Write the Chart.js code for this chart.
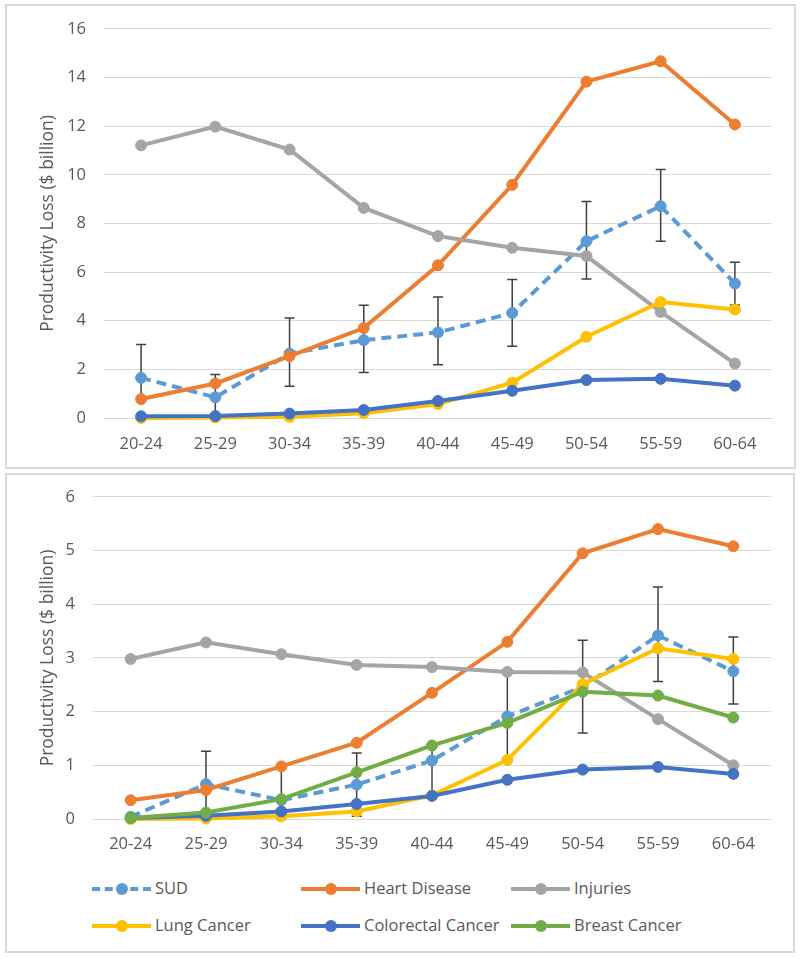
<!DOCTYPE html>
<html>
<head>
<meta charset="utf-8">
<script src="https://cdn.jsdelivr.net/npm/chart.js@4"></script>
<style>
  body { margin: 0; background: #fff; font-family: "Open Sans", sans-serif; }
  .panel { position: absolute; border: 2px solid #d9d9d9; box-sizing: border-box; }
  canvas { position: absolute; }
  .legend-item { position: absolute; height: 20px; font-size: 16.5px; color: #595959; }
  .legend-item .swatch { position: absolute; left: 0; top: 9px; width: 59px; height: 0; border-top: 4px solid; }
  .legend-item .dot { position: absolute; left: 24px; top: 5px; width: 12px; height: 12px; border-radius: 50%; }
  .legend-item .label { position: absolute; left: 63px; top: -2px; white-space: nowrap; }
</style>
</head>
<body>
<div class="panel" style="left:5px;top:4px;width:791px;height:465px;"></div>
<div class="panel" style="left:5px;top:473px;width:790px;height:480px;"></div>
<canvas id="topChart" width="788" height="466" style="left:7px;top:1px;"></canvas>
<canvas id="bottomChart" width="786" height="401" style="left:7px;top:469px;"></canvas>
<div id="legend"></div>

<script>
// categories
const ageGroups = ['20-24', '25-29', '30-34', '35-39', '40-44', '45-49', '50-54', '55-59', '60-64'];

// top panel values ($ billion)
const sudTop = [1.65, 0.85, 2.65, 3.2, 3.52, 4.32, 7.27, 8.71, 5.53];
const sudTopLow = [0.75, 0.0, 1.31, 1.87, 2.19, 2.95, 5.72, 7.27, 4.65];
const sudTopHigh = [3.02, 1.79, 4.11, 4.64, 4.98, 5.70, 8.90, 10.22, 6.40];
const heartTop = [0.78, 1.42, 2.54, 3.70, 6.28, 9.59, 13.83, 14.67, 12.07];
const injuriesTop = [11.21, 11.98, 11.04, 8.64, 7.48, 7.0, 6.66, 4.36, 2.24];
const lungTop = [0.0, 0.02, 0.05, 0.2, 0.57, 1.45, 3.34, 4.77, 4.46];
const colorectalTop = [0.07, 0.08, 0.18, 0.33, 0.70, 1.12, 1.56, 1.61, 1.33];

// bottom panel values ($ billion)
const sudBottom = [0.04, 0.65, 0.35, 0.64, 1.09, 1.91, 2.46, 3.42, 2.75];
const sudBottomLow = [0.04, 0.1, 0.0, 0.05, 0.45, 1.10, 1.60, 2.56, 2.14];
const sudBottomHigh = [0.04, 1.26, 0.95, 1.23, 1.35, 2.74, 3.33, 4.32, 3.39];
const heartBottom = [0.35, 0.54, 0.98, 1.42, 2.35, 3.30, 4.95, 5.40, 5.08];
const injuriesBottom = [2.98, 3.29, 3.07, 2.87, 2.83, 2.74, 2.73, 1.86, 1.0];
const lungBottom = [0.0, 0.01, 0.05, 0.14, 0.44, 1.10, 2.51, 3.18, 2.98];
const colorectalBottom = [0.02, 0.06, 0.14, 0.28, 0.43, 0.73, 0.92, 0.97, 0.84];
const breastBottom = [0.02, 0.12, 0.37, 0.87, 1.37, 1.79, 2.37, 2.30, 1.89];

// axis ranges
const topYMax = 16, topYStep = 2;
const bottomYMax = 6, bottomYStep = 1;

const seriesNames = ['SUD', 'Heart Disease', 'Injuries', 'Lung Cancer', 'Colorectal Cancer', 'Breast Cancer'];
const seriesColors = ['#5B9BD5', '#ED7D31', '#A5A5A5', '#FFC000', '#4472C4', '#70AD47'];

const textColor = '#595959';
const gridColor = '#d9d9d9';

function makeDataset(idx, data, total, extra) {
    const ds = {
        label: seriesNames[idx],
        data: data,
        borderColor: seriesColors[idx],
        backgroundColor: seriesColors[idx],
        pointBackgroundColor: seriesColors[idx],
        pointBorderColor: seriesColors[idx],
        borderWidth: 4,
        pointRadius: 5.5,
        pointBorderWidth: 1,
        tension: 0,
        clip: false,
        order: total - idx   // later series drawn on top, like Excel
    };
    if (idx === 0) ds.borderDash = [10, 6];
    return Object.assign(ds, extra || {});
}

// error bars under the series, drawn through the y scale
const errorBars = {
    id: 'errorBars',
    beforeDatasetsDraw(chart) {
        const ctx = chart.ctx;
        const yScale = chart.scales.y;
        chart.data.datasets.forEach((ds, i) => {
            if (!ds.errLow) return;
            const meta = chart.getDatasetMeta(i);
            ctx.save();
            ctx.strokeStyle = '#404040';
            ctx.lineWidth = 1.5;
            meta.data.forEach((pt, j) => {
                const yLow = yScale.getPixelForValue(ds.errLow[j]);
                const yHigh = yScale.getPixelForValue(ds.errHigh[j]);
                if (Math.abs(yLow - yHigh) < 1) return;
                ctx.beginPath();
                ctx.moveTo(pt.x, yLow); ctx.lineTo(pt.x, yHigh);
                ctx.moveTo(pt.x - 5, yLow); ctx.lineTo(pt.x + 5, yLow);
                ctx.moveTo(pt.x - 5, yHigh); ctx.lineTo(pt.x + 5, yHigh);
                ctx.stroke();
            });
            ctx.restore();
        });
    }
};

function makeOptions(yMax, yStep, yWidth, xHeight, xPad, padding) {
    return {
        responsive: false,
        animation: false,
        devicePixelRatio: 1,
        layout: { padding: padding },
        plugins: { legend: { display: false }, tooltip: { enabled: false } },
        scales: {
            x: {
                offset: true,
                grid: { display: false, drawTicks: false },
                border: { display: true, color: gridColor, width: 1 },
                ticks: { color: textColor, font: { family: 'Open Sans', size: 16.5 }, padding: xPad, maxRotation: 0 },
                afterFit: (s) => { s.height = xHeight; }
            },
            y: {
                min: 0,
                max: yMax,
                grid: { color: gridColor, lineWidth: 1, drawTicks: false },
                border: { display: false },
                ticks: { stepSize: yStep, color: textColor, font: { family: 'Open Sans', size: 16.5 }, padding: 18 },
                title: {
                    display: true,
                    text: 'Productivity Loss ($ billion)',
                    color: textColor,
                    font: { family: 'Open Sans', size: 17.5 },
                    padding: { top: 31, bottom: 0 }
                },
                afterFit: (s) => { s.width = yWidth; }
            }
        }
    };
}

new Chart(document.getElementById('topChart'), {
    type: 'line',
    data: {
        labels: ageGroups,
        datasets: [
            makeDataset(0, sudTop, 5, { errLow: sudTopLow, errHigh: sudTopHigh }),
            makeDataset(1, heartTop, 5),
            makeDataset(2, injuriesTop, 5),
            makeDataset(3, lungTop, 5),
            makeDataset(4, colorectalTop, 5)
        ]
    },
    options: makeOptions(topYMax, topYStep, 97, 49, 16, { left: 0, top: 0, right: 23, bottom: 0 }),
    plugins: [errorBars]
});

new Chart(document.getElementById('bottomChart'), {
    type: 'line',
    data: {
        labels: ageGroups,
        datasets: [
            makeDataset(0, sudBottom, 6, { errLow: sudBottomLow, errHigh: sudBottomHigh }),
            makeDataset(1, heartBottom, 6),
            makeDataset(2, injuriesBottom, 6),
            makeDataset(3, lungBottom, 6),
            makeDataset(4, colorectalBottom, 6),
            makeDataset(5, breastBottom, 6)
        ]
    },
    options: makeOptions(bottomYMax, bottomYStep, 86, 51, 15, { left: 0, top: 0, right: 22, bottom: 0 }),
    plugins: [errorBars]
});

// legend: 3 columns x 2 rows under the bottom chart
const legendCols = [92, 301, 511];
const legendRows = [878, 915];
const legendEl = document.getElementById('legend');
seriesNames.forEach((name, i) => {
    const item = document.createElement('div');
    item.className = 'legend-item';
    item.style.left = legendCols[i % 3] + 'px';
    item.style.top = legendRows[Math.floor(i / 3)] + 'px';
    const dash = i === 0 ? 'dashed' : 'solid';
    item.innerHTML =
        '<div class="swatch" style="border-top-style:' + dash + ';border-color:' + seriesColors[i] + '"></div>' +
        '<div class="dot" style="background:' + seriesColors[i] + '"></div>' +
        '<div class="label">' + name + '</div>';
    legendEl.appendChild(item);
});
</script>
</body>
</html>
